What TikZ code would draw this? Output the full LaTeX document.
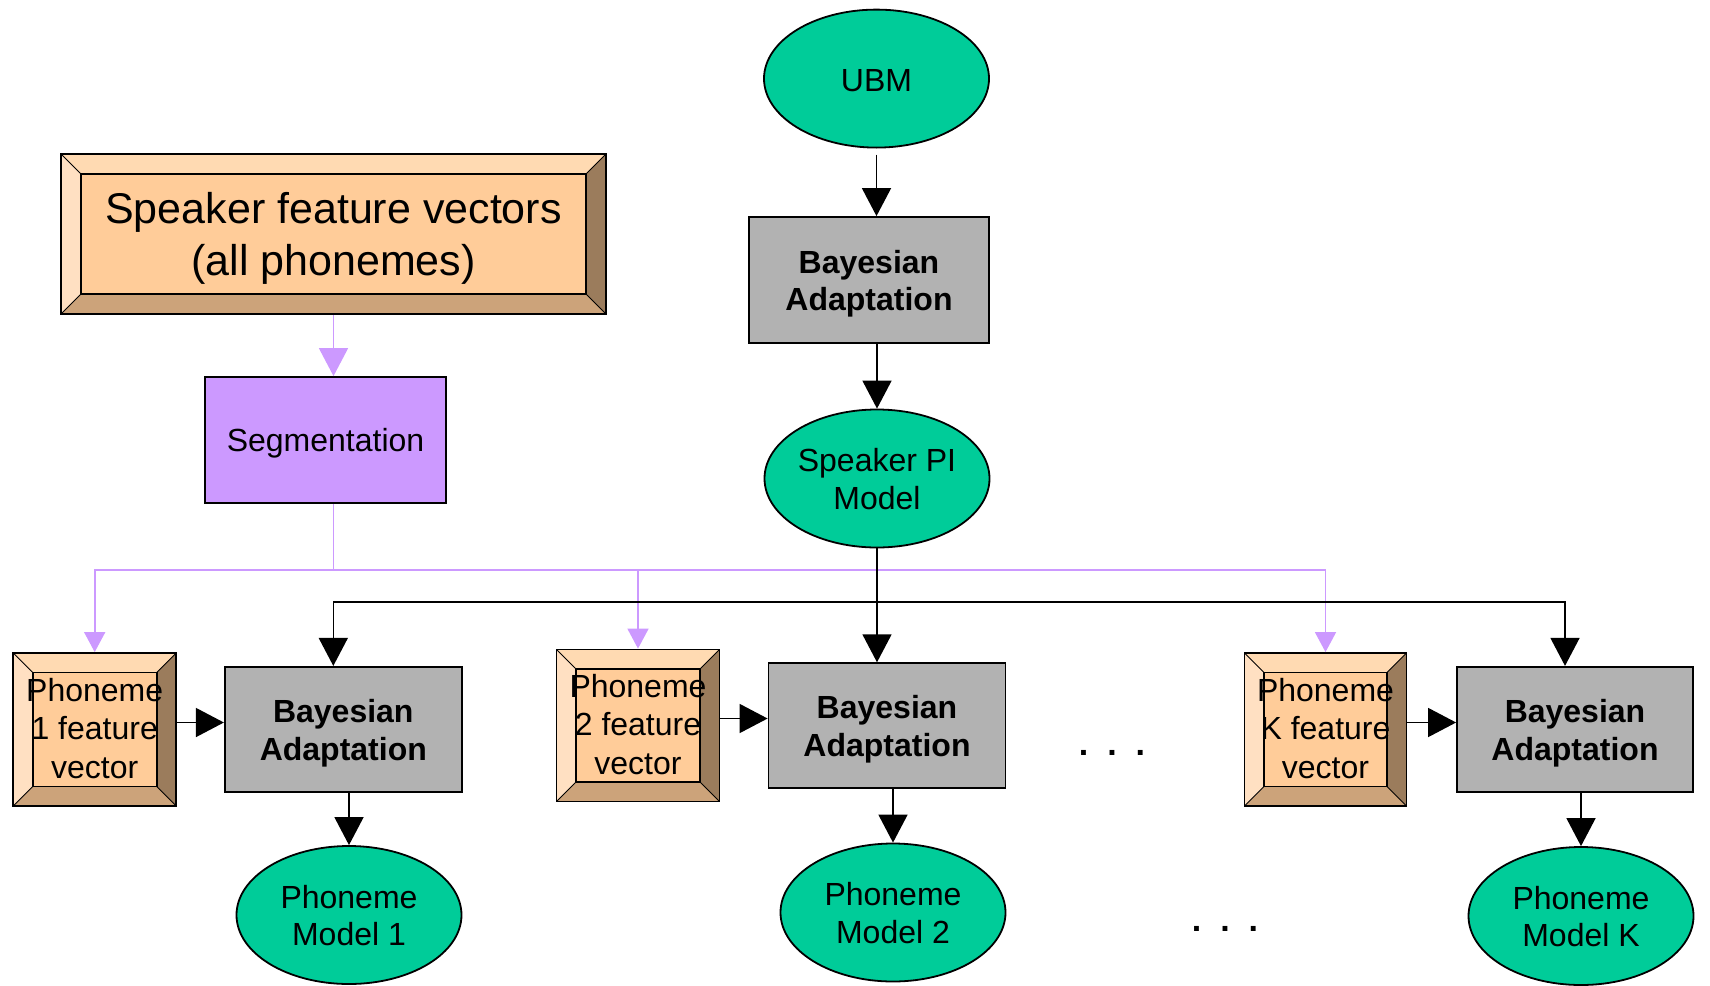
\documentclass[tikz,border=0pt]{standalone}
\usepackage{fontspec}
\setmainfont{Liberation Sans}
\usetikzlibrary{arrows.meta,shapes.geometric,calc}
\definecolor{grn}{HTML}{00CC99}
\definecolor{gry}{HTML}{B2B2B2}
\definecolor{prp}{HTML}{CC99FF}
\definecolor{orC}{HTML}{FFCC99}
\definecolor{orT}{HTML}{FFDAB2}
\definecolor{orL}{HTML}{FFE0C2}
\definecolor{orR}{HTML}{9B7C5C}
\definecolor{orB}{HTML}{CCA37A}
\tikzset{bevd/.store in=\bevdepth, bevd=19.5pt}
\begin{document}
\begin{tikzpicture}[x=1pt,y=-1pt,
  base/.style={line width=1.8pt, draw=black, inner sep=0pt, align=center,
    font=\fontsize{32}{37.7}\selectfont},
  ell/.style={base, ellipse, fill=grn, minimum width=225pt, minimum height=138pt,
    text height=70pt, text depth=8.4pt},
  gbox/.style={base, rectangle, fill=gry, minimum width=237pt, minimum height=125pt,
    font=\fontsize{32}{37.5}\selectfont\bfseries, text height=70pt, text depth=8.6pt},
  bevbox/.style={base, rectangle, fill=orC, font=\fontsize{32}{38.6}\selectfont,
    text height=104pt, text depth=6pt,
    path picture={
      \path (path picture bounding box.north west) coordinate (bNW)
            (path picture bounding box.north east) coordinate (bNE)
            (path picture bounding box.south east) coordinate (bSE)
            (path picture bounding box.south west) coordinate (bSW);
      \path ([xshift=\bevdepth,yshift=-\bevdepth]bNW) coordinate (iNW)
            ([xshift=-\bevdepth,yshift=-\bevdepth]bNE) coordinate (iNE)
            ([xshift=-\bevdepth,yshift=\bevdepth]bSE) coordinate (iSE)
            ([xshift=\bevdepth,yshift=\bevdepth]bSW) coordinate (iSW);
      \fill[orT] (bNW) -- (bNE) -- (iNE) -- (iNW) -- cycle;
      \fill[orR] (bNE) -- (bSE) -- (iSE) -- (iNE) -- cycle;
      \fill[orB] (bSE) -- (bSW) -- (iSW) -- (iSE) -- cycle;
      \fill[orL] (bSW) -- (bNW) -- (iNW) -- (iSW) -- cycle;
      \draw[line width=0.9pt] (bNW) -- (iNW) (bNE) -- (iNE) (bSE) -- (iSE) (bSW) -- (iSW);
      \draw[line width=1.8pt] (iNW) rectangle (iSE);
    }},
  arr/.style={line width=1.6pt, draw=black, -{Triangle[length=28pt,width=29pt]}},
  parr/.style={line width=1.6pt, draw=prp, -{Triangle[length=20pt,width=21pt]}},
  bigparr/.style={line width=1.6pt, draw=prp, -{Triangle[length=28pt,width=29pt]}},
  pln/.style={line width=1.6pt, draw=prp},
  dotsty/.style={font=\fontsize{34}{40}\selectfont\bfseries, anchor=base, inner sep=0pt}
]
\useasboundingbox (0,0) rectangle (1710,985);

% nodes
\node[ell, text height=30pt, text depth=5.2pt] (ubm) at (876.5,78.6) {UBM};
\node[gbox, minimum width=240pt, minimum height=126pt] (ba0) at (869,280) {Bayesian\\Adaptation};
\node[ell] (spi) at (877,478.5) {Speaker PI\\Model};
\node[bevbox, bevd=20pt, minimum width=545pt, minimum height=160pt,
      font=\fontsize{43}{52}\selectfont, text height=90pt, text depth=8pt] (spk) at (333.5,234) {Speaker feature vectors\\(all phonemes)};
\node[base, fill=prp, minimum width=241pt, minimum height=126pt,
      text height=30pt, text depth=6.6pt] (seg) at (325.5,440) {Segmentation};

\node[bevbox, minimum width=163pt, minimum height=153pt] (ph1) at (94.7,729.5) {Phoneme\\1 feature\\vector};
\node[gbox] (ba1) at (343.3,729.3) {Bayesian\\Adaptation};
\node[ell] (pm1) at (349,915) {Phoneme\\Model 1};

\node[bevbox, minimum width=163pt, minimum height=152pt] (ph2) at (638,725.5) {Phoneme\\2 feature\\vector};
\node[gbox] (ba2) at (887,725.7) {Bayesian\\Adaptation};
\node[ell] (pm2) at (893,912.5) {Phoneme\\Model 2};

\node[bevbox, minimum width=162pt, minimum height=153pt] (phK) at (1325.5,729.5) {Phoneme\\K feature\\vector};
\node[gbox, minimum width=236pt] (baK) at (1575,729.3) {Bayesian\\Adaptation};
\node[ell] (pmK) at (1581,916) {Phoneme\\Model K};

\node[dotsty] (dots1) at (1112,755) {.\hspace{19pt}.\hspace{19pt}.};
\node[dotsty] (dots2) at (1225,931) {.\hspace{19pt}.\hspace{19pt}.};

% purple connectors
\draw[bigparr] (spk.south) -- (spk.south |- seg.north);
\coordinate (pj) at (333.5,570);
\draw[pln] (spk.south |- seg.south) -- (pj);
\draw[parr] (pj) -| (ph1.north);
\draw[parr] (pj) -| (ph2.north);
\draw[parr] (pj) -| (phK.north);

% black connectors
\draw[arr, shorten <=6pt] (ubm.south) -- (ba0.north -| ubm.south);
\draw[arr] (spi.north |- ba0.south) -- (spi.north);
\draw[arr] (spi.south) -- ([xshift=-10pt]ba2.north);
\coordinate (bj) at (877,601.7);
\draw[arr] (bj) -| ([xshift=-10pt]ba1.north);
\draw[arr] (bj) -| ([xshift=-10pt]baK.north);

\draw[arr] ([yshift=7pt]ph1.east) -- ([yshift=7pt]ph1.east -| ba1.west);
\draw[arr] ([yshift=7pt]ph2.east) -- ([yshift=7pt]ph2.east -| ba2.west);
\draw[arr] ([yshift=7pt]phK.east) -- ([yshift=7pt]phK.east -| baK.west);

\draw[arr] (pm1.north |- ba1.south) -- (pm1.north);
\draw[arr] (pm2.north |- ba2.south) -- (pm2.north);
\draw[arr] (pmK.north |- baK.south) -- (pmK.north);
\end{tikzpicture}
\end{document}
